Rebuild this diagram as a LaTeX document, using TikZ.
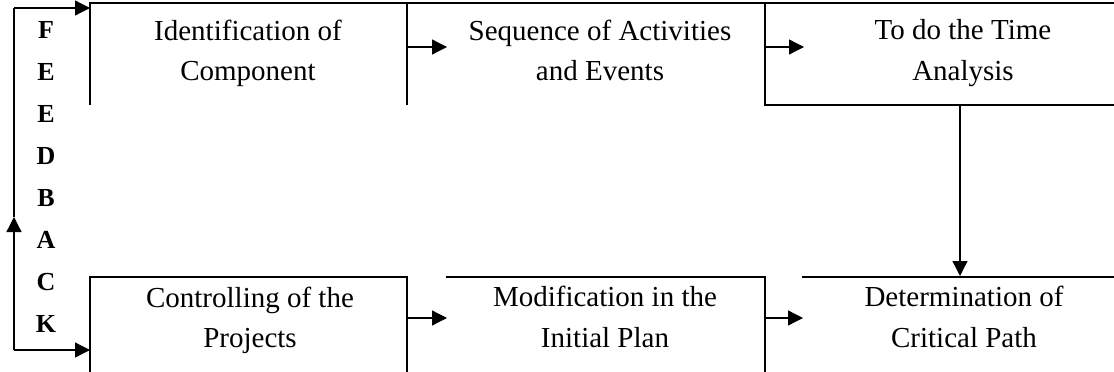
\documentclass[tikz,border=0pt]{standalone}
\usepackage{fontspec}
\setmainfont{Liberation Serif}
\usetikzlibrary{arrows.meta}
\begin{document}
\begin{tikzpicture}[x=1pt,y=-1pt,
  border/.style={line width=1.8pt,line cap=rect},
  conn/.style={line width=1.3pt,-{Triangle[length=15pt,width=15pt]}},
  plain/.style={line width=1.3pt},
  lbl/.style={align=center,font=\fontsize{29}{40.5}\selectfont,inner sep=0pt},
  fbl/.style={anchor=base,inner sep=0pt,font=\fontsize{26}{26}\selectfont\bfseries}]
\useasboundingbox (0,0) rectangle (1114,372);
% partial box borders
\draw[border] (90,104) -- (90,3) -- (1114,3);
\draw[border] (407,3) -- (407,104);
\draw[border] (765,3) -- (765,105) -- (1114,105);
\draw[border] (90,372) -- (90,277) -- (407,277) -- (407,372);
\draw[border] (447,277) -- (765,277) -- (765,372);
\draw[border] (803,277) -- (1114,277);
% texts
\node[lbl] (n1) at (248,53.2) {Identification of\\Component};
\node[lbl] (n2) at (600,50.6) {Sequence of Activities\\and Events};
\node[lbl] (n3) at (963,53.2) {To do the Time\\Analysis};
\node[lbl] (n4) at (250,320.2) {Controlling of the\\Projects};
\node[lbl] (n5) at (605,317.1) {Modification in the\\Initial Plan};
\node[lbl] (n6) at (964,317.1) {Determination of\\Critical Path};
% feedback letters
\node[fbl] (l1) at (46,38) {F};
\node[fbl] (l2) at (46,80) {E};
\node[fbl] (l3) at (46,122) {E};
\node[fbl] (l4) at (46,164) {D};
\node[fbl] (l5) at (46,206) {B};
\node[fbl] (l6) at (46,248) {A};
\node[fbl] (l7) at (46,290) {C};
\node[fbl] (l8) at (46,332) {K};
% connector end points
\coordinate (a1) at (407,47);
\coordinate (b1) at (447,47);
\coordinate (a2) at (765,47);
\coordinate (b2) at (804,47);
\coordinate (a3) at (960,105);
\coordinate (b3) at (960,276);
\coordinate (a4) at (407,318);
\coordinate (b4) at (447,318);
\coordinate (a5) at (765,318);
\coordinate (b5) at (803,318);
\coordinate (fb0) at (14,350);
\coordinate (fbu) at (14,217);
\coordinate (fbt) at (14,8);
\coordinate (in1) at (90,8);
\coordinate (in4) at (90,350);
% connectors
\draw[conn] (a1) -- (b1);
\draw[conn] (a2) -- (b2);
\draw[conn] (a3) -- (b3);
\draw[conn] (a4) -- (b4);
\draw[conn] (a5) -- (b5);
\draw[plain] (fbu) -- (fbt);
\draw[conn] (fb0) -- (fbu);
\draw[conn] (fbt) -- (in1);
\draw[conn] (fb0) -- (in4);
\end{tikzpicture}
\end{document}
